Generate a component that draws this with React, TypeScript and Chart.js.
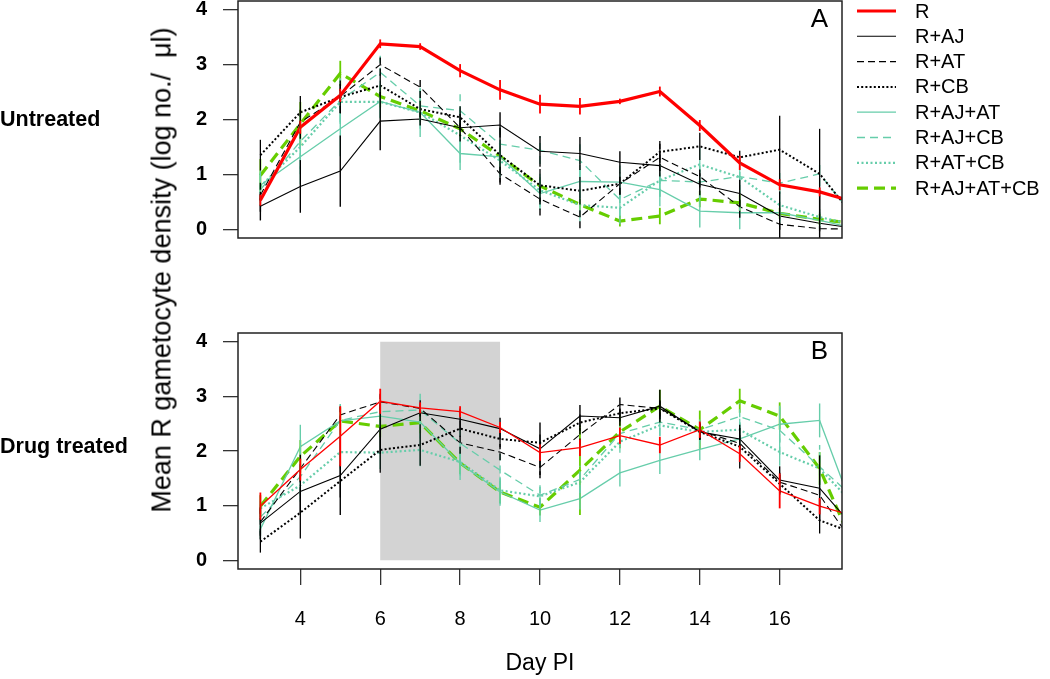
import React, { useEffect, useRef } from 'react';
import { Chart, registerables } from 'chart.js';

Chart.register(...registerables);

// ---------------- data ----------------
const DAYS = [3, 4, 5, 6, 7, 8, 9, 10, 11, 12, 13, 14, 15, 16, 17, 18];
const SERIES_NAMES = ['R', 'R+AJ', 'R+AT', 'R+CB', 'R+AJ+AT', 'R+AJ+CB', 'R+AT+CB', 'R+AJ+AT+CB'];
const X_TICKS = [4, 6, 8, 10, 12, 14, 16];
const Y_TICKS = [0, 1, 2, 3, 4];
const X_LIMITS = [2.44, 17.56];
const Y_LIMITS = [-0.16, 4.16];
const SHADE_DAYS = [6, 9];
const SHADE_VALUES = [0, 4];

// Panel A: untreated
const A_R = [0.53, 1.86, 2.44, 3.38, 3.33, 2.89, 2.54, 2.28, 2.24, 2.33, 2.51, 1.89, 1.21, 0.81, 0.68, 0.47];
const A_R_AJ = [0.42, 0.78, 1.06, 1.97, 2.01, 1.85, 1.9, 1.42, 1.38, 1.22, 1.16, 0.82, 0.65, 0.24, 0.11, 0.0];
const A_R_AT = [0.62, 1.95, 2.42, 3.0, 2.59, 1.85, 1.01, 0.55, 0.22, 0.83, 1.31, 0.96, 0.41, 0.09, 0.01, 0.0];
const A_R_CB = [1.35, 2.13, 2.41, 2.62, 2.19, 2.04, 1.35, 0.8, 0.7, 0.83, 1.41, 1.51, 1.31, 1.45, 1.01, 0.1];
const A_R_AJ_AT = [0.8, 1.32, 1.83, 2.33, 2.13, 1.38, 1.32, 0.65, 0.87, 0.86, 0.72, 0.33, 0.3, 0.3, 0.16, 0.0];
const A_R_AJ_CB = [0.72, 1.6, 2.35, 2.86, 2.25, 2.16, 1.55, 1.44, 1.25, 0.54, 0.89, 0.86, 0.96, 0.84, 1.01, 0.1];
const A_R_AT_CB = [0.78, 1.5, 2.32, 2.32, 2.13, 1.71, 1.25, 0.71, 0.44, 0.39, 0.89, 1.18, 0.95, 0.44, 0.22, 0.06];
const A_R_AJ_AT_CB = [0.98, 1.92, 2.84, 2.42, 2.16, 1.83, 1.33, 0.79, 0.45, 0.15, 0.24, 0.55, 0.48, 0.29, 0.18, 0.09];

const A_R_ERR = [0.1, 0.12, 0.12, 0.08, 0.06, 0.12, 0.18, 0.17, 0.15, 0.05, 0.09, 0.1, 0.13, 0.1, 0.08, 0];
const A_R_AJ_ERR = [0.26, 0.48, 0.65, 0.53, 0.12, 0.15, 0.23, 0.28, 0.3, 0.2, 0.2, 0.2, 0.25, 0.45, 0.5, 0];
const A_R_AT_ERR = [0.3, 0.3, 0.3, 0.2, 0.2, 0.25, 0.2, 0.3, 0.2, 0.2, 0.25, 0.2, 0.2, 0.1, 0.05, 0];
const A_R_CB_ERR = [0.28, 0.3, 0.3, 0.2, 0.15, 0.2, 0.5, 0.3, 0.25, 0.2, 0.2, 0.25, 0.12, 0.62, 0.82, 0];
const A_R_AJ_AT_ERR = [0.25, 0.5, 0.5, 0.3, 0.45, 0.3, 0.3, 0.3, 0.3, 0.3, 0.3, 0.3, 0.3, 0.2, 0.15, 0];
const A_R_AJ_CB_ERR = [0.3, 0.6, 0.4, 0.3, 0.3, 0.3, 0.3, 0.25, 0.3, 0.3, 0.3, 0.3, 0.3, 0.2, 0.22, 0];
const A_R_AT_CB_ERR = [0.3, 0.4, 0.4, 0.3, 0.3, 0.5, 0.3, 0.3, 0.3, 0.3, 0.3, 0.3, 0.3, 0.3, 0.15, 0];
const A_R_AJ_AT_CB_ERR = [0.3, 0.4, 0.23, 0.2, 0.2, 0.15, 0.2, 0.15, 0.1, 0.1, 0.15, 0.15, 0.15, 0.1, 0.1, 0];

// Panel B: drug treated
const B_R = [0.99, 1.66, 2.27, 2.91, 2.79, 2.72, 2.43, 1.97, 2.06, 2.28, 2.11, 2.39, 1.95, 1.27, 0.99, 0.78];
const B_R_AJ = [0.68, 1.26, 1.55, 2.4, 2.7, 2.58, 2.41, 2.04, 2.64, 2.61, 2.82, 2.35, 2.22, 1.47, 1.32, 0.48];
const B_R_AT = [0.7, 1.68, 2.66, 2.9, 2.78, 2.15, 1.98, 1.7, 2.3, 2.85, 2.78, 2.37, 2.14, 1.43, 1.19, 0.15];
const B_R_CB = [0.34, 0.87, 1.45, 2.02, 2.11, 2.41, 2.22, 2.15, 2.52, 2.69, 2.78, 2.35, 2.08, 1.4, 0.73, 0.46];
const B_R_AJ_AT = [0.57, 2.08, 2.55, 2.64, 2.53, 1.77, 1.25, 0.92, 1.13, 1.6, 1.83, 2.03, 2.22, 2.49, 2.56, 0.61];
const B_R_AJ_CB = [0.79, 1.53, 2.56, 2.72, 2.75, 2.14, 1.65, 1.19, 1.48, 2.32, 2.53, 2.39, 2.63, 2.38, 1.71, 1.05];
const B_R_AT_CB = [0.95, 1.37, 1.98, 1.97, 2.02, 1.8, 1.28, 1.17, 1.43, 2.17, 2.47, 2.35, 2.39, 1.98, 1.68, 0.91];
const B_R_AJ_AT_CB = [0.99, 1.9, 2.55, 2.45, 2.52, 1.78, 1.25, 0.97, 1.65, 2.35, 2.82, 2.39, 2.92, 2.64, 1.68, 0.0];

const B_R_ERR = [0.25, 0.2, 0.55, 0.23, 0.1, 0.1, 0.1, 0.15, 0.15, 0.15, 0.15, 0.15, 0.15, 0.32, 0.15, 0];
const B_R_AJ_ERR = [0.3, 0.4, 0.72, 0.45, 0.15, 0.2, 0.2, 0.48, 0.2, 0.15, 0.3, 0.15, 0.2, 0.25, 0.6, 0];
const B_R_AT_ERR = [0.25, 0.25, 0.15, 0.15, 0.15, 0.2, 0.15, 0.2, 0.2, 0.2, 0.2, 0.15, 0.15, 0.2, 0.2, 0];
const B_R_CB_ERR = [0.2, 0.47, 0.3, 0.42, 0.38, 0.15, 0.15, 0.15, 0.15, 0.15, 0.15, 0.15, 0.4, 0.2, 0.24, 0];
const B_R_AJ_AT_ERR = [0.18, 0.4, 0.3, 0.3, 0.3, 0.3, 0.25, 0.22, 0.2, 0.25, 0.25, 0.2, 0.3, 0.34, 0.31, 0];
const B_R_AJ_CB_ERR = [0.3, 0.35, 0.3, 0.3, 0.3, 0.35, 0.3, 0.2, 0.25, 0.25, 0.25, 0.2, 0.25, 0.45, 0.4, 0];
const B_R_AT_CB_ERR = [0.25, 0.3, 0.3, 0.3, 0.3, 0.25, 0.25, 0.17, 0.2, 0.2, 0.2, 0.2, 0.2, 0.25, 0.3, 0];
const B_R_AJ_AT_CB_ERR = [0.2, 0.3, 0.25, 0.2, 0.2, 0.2, 0.2, 0.15, 0.82, 0.3, 0.3, 0.35, 0.22, 0.25, 0.3, 0];

const A_VALUES = [A_R, A_R_AJ, A_R_AT, A_R_CB, A_R_AJ_AT, A_R_AJ_CB, A_R_AT_CB, A_R_AJ_AT_CB];
const A_ERRORS = [A_R_ERR, A_R_AJ_ERR, A_R_AT_ERR, A_R_CB_ERR, A_R_AJ_AT_ERR, A_R_AJ_CB_ERR, A_R_AT_CB_ERR, A_R_AJ_AT_CB_ERR];
const B_VALUES = [B_R, B_R_AJ, B_R_AT, B_R_CB, B_R_AJ_AT, B_R_AJ_CB, B_R_AT_CB, B_R_AJ_AT_CB];
const B_ERRORS = [B_R_ERR, B_R_AJ_ERR, B_R_AT_ERR, B_R_CB_ERR, B_R_AJ_AT_ERR, B_R_AJ_CB_ERR, B_R_AT_CB_ERR, B_R_AJ_AT_CB_ERR];

// ---------------- styles ----------------
const FONT = '"Liberation Sans", Arial, Helvetica, sans-serif';
const AQUA = '#66CDAA';
const GREEN = '#66CD00';
type Style = { color: string; dash: number[]; barDash: number[]; width: number; widthB: number; bar: number };
const STYLES: Style[] = [
  { color: '#FF0000', dash: [], barDash: [], width: 3.2, widthB: 1.3, bar: 1.8 },
  { color: '#000000', dash: [], barDash: [], width: 1.1, widthB: 1.1, bar: 1.4 },
  { color: '#000000', dash: [7, 4], barDash: [7, 4], width: 1.1, widthB: 1.1, bar: 1.4 },
  { color: '#000000', dash: [2, 2.2], barDash: [], width: 2, widthB: 2, bar: 1.3 },
  { color: AQUA, dash: [], barDash: [], width: 1.3, widthB: 1.3, bar: 1.4 },
  { color: AQUA, dash: [8, 5], barDash: [8, 5], width: 1.3, widthB: 1.3, bar: 1.4 },
  { color: AQUA, dash: [2, 2.5], barDash: [], width: 2.2, widthB: 2.2, bar: 1.3 },
  { color: GREEN, dash: [11, 6], barDash: [], width: 3.2, widthB: 3.2, bar: 1.8 },
];

function makeDatasets(values: number[][], errors: number[][], panel: 'A' | 'B') {
  return values.map((vals, i) => {
    const st = STYLES[i];
    return {
      label: SERIES_NAMES[i],
      data: DAYS.map((d, j) => ({ x: d, y: vals[j] })),
      errors: errors[i],
      barWidth: st.bar,
      barDash: st.barDash,
      borderColor: st.color,
      backgroundColor: st.color,
      borderWidth: panel === 'A' ? st.width : st.widthB,
      borderDash: st.dash,
      pointRadius: 0,
      pointHoverRadius: 0,
      tension: 0,
      fill: false,
      clip: 0,
    };
  });
}

const boxPlugin = {
  id: 'box',
  afterDraw(chart: any) {
    const { ctx, chartArea: a } = chart;
    ctx.save();
    ctx.strokeStyle = '#222';
    ctx.lineWidth = 1.5;
    ctx.setLineDash([]);
    ctx.strokeRect(a.left, a.top, a.right - a.left, a.bottom - a.top);
    ctx.restore();
  },
};

const errorBarPlugin = {
  id: 'errorBars',
  afterDatasetsDraw(chart: any) {
    const { ctx, chartArea: a, scales } = chart;
    ctx.save();
    ctx.beginPath();
    ctx.rect(a.left, a.top, a.right - a.left, a.bottom - a.top);
    ctx.clip();
    const ds = chart.data.datasets;
    for (let i = ds.length - 1; i >= 0; i--) {
      const d = ds[i];
      ctx.strokeStyle = d.borderColor;
      ctx.lineWidth = d.barWidth;
      ctx.setLineDash(d.barDash);
      d.data.forEach((p: any, j: number) => {
        const e = d.errors[j];
        if (!e) return;
        const x = scales.x.getPixelForValue(p.x);
        ctx.beginPath();
        ctx.moveTo(x, scales.y.getPixelForValue(p.y - e));
        ctx.lineTo(x, scales.y.getPixelForValue(p.y + e));
        ctx.stroke();
      });
    }
    ctx.restore();
  },
};

const shadePlugin = {
  id: 'shade',
  beforeDatasetsDraw(chart: any) {
    const { ctx, scales } = chart;
    const x0 = scales.x.getPixelForValue(SHADE_DAYS[0]);
    const x1 = scales.x.getPixelForValue(SHADE_DAYS[1]);
    const y0 = scales.y.getPixelForValue(SHADE_VALUES[1]);
    const y1 = scales.y.getPixelForValue(SHADE_VALUES[0]);
    ctx.save();
    ctx.fillStyle = '#D3D3D3';
    ctx.fillRect(x0, y0, x1 - x0, y1 - y0);
    ctx.restore();
  },
};

function panelLabelPlugin(text: string) {
  return {
    id: 'panelLabel' + text,
    afterDraw(chart: any) {
      const { ctx, chartArea: a } = chart;
      ctx.save();
      ctx.fillStyle = '#000';
      ctx.font = `26px ${FONT}`;
      ctx.textAlign = 'right';
      ctx.textBaseline = 'middle';
      ctx.fillText(text, a.right - 14, a.top + 19);
      ctx.restore();
    },
  };
}

const legendPlugin = {
  id: 'sideLegend',
  afterDraw(chart: any) {
    const { ctx, chartArea: a } = chart;
    const x0 = a.right + 15;
    const x1 = a.right + 54;
    const tx = a.right + 73;
    ctx.save();
    SERIES_NAMES.forEach((name, i) => {
      const st = STYLES[i];
      const y = a.top + 10 + i * 25.3;
      ctx.strokeStyle = st.color;
      ctx.lineWidth = st.width;
      ctx.setLineDash(st.dash);
      ctx.beginPath();
      ctx.moveTo(x0, y);
      ctx.lineTo(x1, y);
      ctx.stroke();
      ctx.setLineDash([]);
      ctx.fillStyle = '#000';
      ctx.font = `20px ${FONT}`;
      ctx.textAlign = 'left';
      ctx.textBaseline = 'middle';
      ctx.fillText(name, tx, y + 1);
    });
    ctx.restore();
  },
};

function yScale() {
  return {
    type: 'linear' as const,
    min: Y_LIMITS[0],
    max: Y_LIMITS[1],
    afterFit: (s: any) => {
      s.width = 238;
      s.paddingTop = 0;
      s.paddingBottom = 0;
    },
    afterBuildTicks: (s: any) => {
      s.ticks = Y_TICKS.map((v) => ({ value: v }));
    },
    grid: { drawOnChartArea: false, drawTicks: true, tickLength: 15, color: '#333', lineWidth: 1.3 },
    border: { display: false },
    ticks: { padding: 16, color: '#000', font: { family: FONT, size: 20, weight: 'bold' as const } },
  };
}

export default function App() {
  const refA = useRef<HTMLCanvasElement>(null);
  const refB = useRef<HTMLCanvasElement>(null);

  useEffect(() => {
    const chartA = new Chart(refA.current as HTMLCanvasElement, {
      type: 'line',
      data: { datasets: makeDatasets(A_VALUES, A_ERRORS, 'A') as any },
      options: {
        responsive: false,
        animation: false,
        devicePixelRatio: 1,
        layout: { padding: { top: 1, bottom: 62, left: 0, right: 208 } },
        plugins: { legend: { display: false }, tooltip: { enabled: false } },
        events: [],
        scales: {
          x: { type: 'linear', min: X_LIMITS[0], max: X_LIMITS[1], display: false },
          y: yScale() as any,
        },
      },
      plugins: [errorBarPlugin, boxPlugin, panelLabelPlugin('A'), legendPlugin],
    });

    const chartB = new Chart(refB.current as HTMLCanvasElement, {
      type: 'line',
      data: { datasets: makeDatasets(B_VALUES, B_ERRORS, 'B') as any },
      options: {
        responsive: false,
        animation: false,
        devicePixelRatio: 1,
        layout: { padding: { top: 33, bottom: 0, left: 0, right: 208 } },
        plugins: { legend: { display: false }, tooltip: { enabled: false } },
        events: [],
        scales: {
          x: {
            type: 'linear',
            min: X_LIMITS[0],
            max: X_LIMITS[1],
            afterFit: (s: any) => {
              s.height = 110;
              s.paddingLeft = 0;
              s.paddingRight = 0;
            },
            afterBuildTicks: (s: any) => {
              s.ticks = X_TICKS.map((v) => ({ value: v }));
            },
            grid: { drawOnChartArea: false, drawTicks: true, tickLength: 16, color: '#333', lineWidth: 1.3 },
            border: { display: false },
            ticks: { padding: 22, color: '#000', font: { family: FONT, size: 20 } },
            title: {
              display: true,
              text: 'Day PI',
              color: '#000',
              font: { family: FONT, size: 23 },
              padding: { top: 0, bottom: 2 },
            },
          },
          y: yScale() as any,
        },
      },
      plugins: [shadePlugin, errorBarPlugin, boxPlugin, panelLabelPlugin('B')],
    });

    return () => {
      chartA.destroy();
      chartB.destroy();
    };
  }, []);

  const rowLabel: React.CSSProperties = {
    position: 'absolute',
    left: 0,
    fontFamily: FONT,
    fontWeight: 'bold',
    fontSize: 21.5,
    lineHeight: '24px',
    whiteSpace: 'nowrap',
    color: '#000',
  };

  return (
    <div style={{ position: 'fixed', left: 0, top: 0, width: 1050, height: 679, background: '#fff', overflow: 'hidden' }}>
      <canvas ref={refA} width={1050} height={300} style={{ position: 'absolute', left: 0, top: 0, width: 1050, height: 300 }} />
      <canvas ref={refB} width={1050} height={379} style={{ position: 'absolute', left: 0, top: 300, width: 1050, height: 379 }} />
      <div style={{ ...rowLabel, top: 119 - 12 }}>Untreated</div>
      <div style={{ ...rowLabel, top: 446 - 12 }}>Drug treated</div>
      <div
        style={{
          position: 'absolute',
          left: 162,
          top: 270,
          transform: 'translate(-50%, -50%) rotate(-90deg)',
          fontFamily: FONT,
          fontSize: 27,
          whiteSpace: 'pre',
          color: '#000',
        }}
      >
        Mean R gametocyte density (log no./  μl)
      </div>
    </div>
  );
}
